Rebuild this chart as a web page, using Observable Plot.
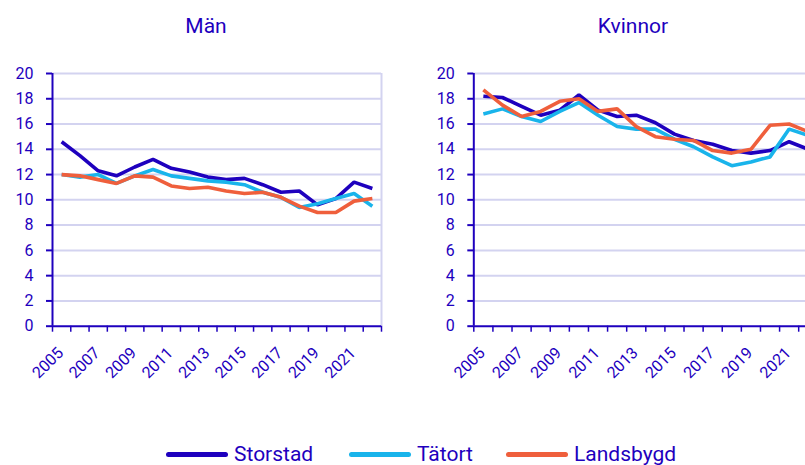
<!DOCTYPE html>
<html>
<head>
<meta charset="utf-8">
<script src="https://cdn.jsdelivr.net/npm/d3@7"></script>
<script src="https://cdn.jsdelivr.net/npm/@observablehq/plot@0.6"></script>
<style>
  html, body { margin: 0; padding: 0; background: #fff; }
  #wrap { position: relative; width: 805px; height: 465px; overflow: hidden; font-family: Roboto, sans-serif; color: #1E00BE; }
  .title { position: absolute; top: 14px; font-size: 21px; line-height: 25px; transform: translateX(-50%); white-space: nowrap; }
  .panel { position: absolute; top: 0; }
  .panel svg { max-width: none !important; display: block; }
  #legend { position: absolute; top: 441px; left: 0; width: 805px; height: 26px; }
  .item { position: absolute; top: 0; height: 26px; display: flex; align-items: center; font-size: 21px; line-height: 26px; white-space: nowrap; }
  .sw { display: inline-block; width: 62px; height: 5px; border-radius: 3px; margin-right: 6px; }
</style>
</head>
<body>
<div id="wrap">
  <div class="title" style="left:206px">Män</div>
  <div class="title" style="left:633px">Kvinnor</div>
  <div class="panel" id="p1" style="left:0px; width:410px"></div>
  <div class="panel" id="p2" style="left:410px; width:450px"></div>
  <div id="legend"></div>
</div>
<script>
const years = [2005,2006,2007,2008,2009,2010,2011,2012,2013,2014,2015,2016,2017,2018,2019,2020,2021,2022];
const labelYears = [2005,2007,2009,2011,2013,2015,2017,2019,2021];
const yTicks = [0,2,4,6,8,10,12,14,16,18,20];
const seriesNames = ["Storstad","Tätort","Landsbygd"];
const seriesColors = ["#1E00BE","#19B4EB","#EF5F3C"];
const panelTitles = ["Män","Kvinnor"];

const manStorstad  = [14.6,13.5,12.3,11.9,12.6,13.2,12.5,12.2,11.8,11.6,11.7,11.2,10.6,10.7,9.6,10.1,11.4,10.9];
const manTatort    = [12.0,11.8,12.0,11.3,11.9,12.4,11.9,11.7,11.5,11.4,11.2,10.6,10.2,9.4,9.7,10.1,10.5,9.5];
const manLandsbygd = [12.0,11.9,11.6,11.3,11.9,11.8,11.1,10.9,11.0,10.7,10.5,10.6,10.2,9.5,9.0,9.0,9.9,10.1];

const kvStorstad  = [18.2,18.1,17.4,16.7,17.1,18.3,17.1,16.6,16.7,16.1,15.2,14.7,14.4,13.9,13.7,13.9,14.6,14.0];
const kvTatort    = [16.8,17.2,16.6,16.2,17.0,17.7,16.7,15.8,15.6,15.6,14.8,14.2,13.4,12.7,13.0,13.4,15.6,15.1];
const kvLandsbygd = [18.7,17.5,16.6,17.0,17.8,18.0,17.0,17.2,15.8,15.0,14.8,14.7,13.9,13.7,14.0,15.9,16.0,15.4];

const navy = "#1E00BE";
const grid = "#D3D3F0";

function longData(arrs) {
  const out = [];
  arrs.forEach((arr, i) => arr.forEach((v, j) => out.push({year: years[j], value: v, series: seriesNames[i]})));
  return out;
}

function panel(data, width, marginLeft, plotWidth) {
  const boundaries = years.map(y => y - 0.5).concat([years[years.length - 1] + 0.5]);
  const x0 = boundaries[0], x1 = boundaries[boundaries.length - 1];
  return Plot.plot({
    width, height: 430,
    marginLeft, marginRight: width - marginLeft - plotWidth,
    marginTop: 73, marginBottom: 104.3,
    style: {fontFamily: "Roboto, sans-serif", color: navy, background: "transparent", overflow: "visible", maxWidth: "none"},
    x: {domain: [x0, x1], axis: null},
    y: {domain: [0, 20], axis: null},
    color: {domain: seriesNames, range: seriesColors},
    marks: [
      Plot.ruleY(yTicks.slice(1), {stroke: grid, strokeWidth: 2}),
      Plot.ruleX([x1], {stroke: grid, strokeWidth: 2}),
      Plot.line(data, {x: "year", y: "value", z: "series", stroke: "series", strokeWidth: 3.6, strokeLinejoin: "miter", strokeLinecap: "butt"}),
      Plot.axisY(yTicks, {label: null, tickSize: 6, tickPadding: 13, fontSize: 16, stroke: navy, fill: navy, strokeWidth: 2, tickFormat: d => String(d)}),
      Plot.axisX(boundaries, {label: null, tickSize: 6, tickFormat: () => "", stroke: navy, strokeWidth: 1.5}),
      Plot.ruleY([0], {stroke: navy, strokeWidth: 2}),
      Plot.ruleX([x0], {stroke: navy, strokeWidth: 2}),
      Plot.text(labelYears, {x: d => d, y: 0, text: d => String(d), rotate: -45, textAnchor: "end", fontSize: 16, fill: navy, dx: -1, dy: 24})
    ]
  });
}

document.getElementById("p1").appendChild(panel(longData([manStorstad, manTatort, manLandsbygd]), 410, 52, 329));
document.getElementById("p2").appendChild(panel(longData([kvStorstad, kvTatort, kvLandsbygd]), 450, 63.3, 344));

const legendPos = [166, 349, 506];
const legend = document.getElementById("legend");
seriesNames.forEach((name, i) => {
  const item = document.createElement("div");
  item.className = "item";
  item.style.left = legendPos[i] + "px";
  const sw = document.createElement("span");
  sw.className = "sw";
  sw.style.background = seriesColors[i];
  item.appendChild(sw);
  item.appendChild(document.createTextNode(name));
  legend.appendChild(item);
});
</script>
</body>
</html>
